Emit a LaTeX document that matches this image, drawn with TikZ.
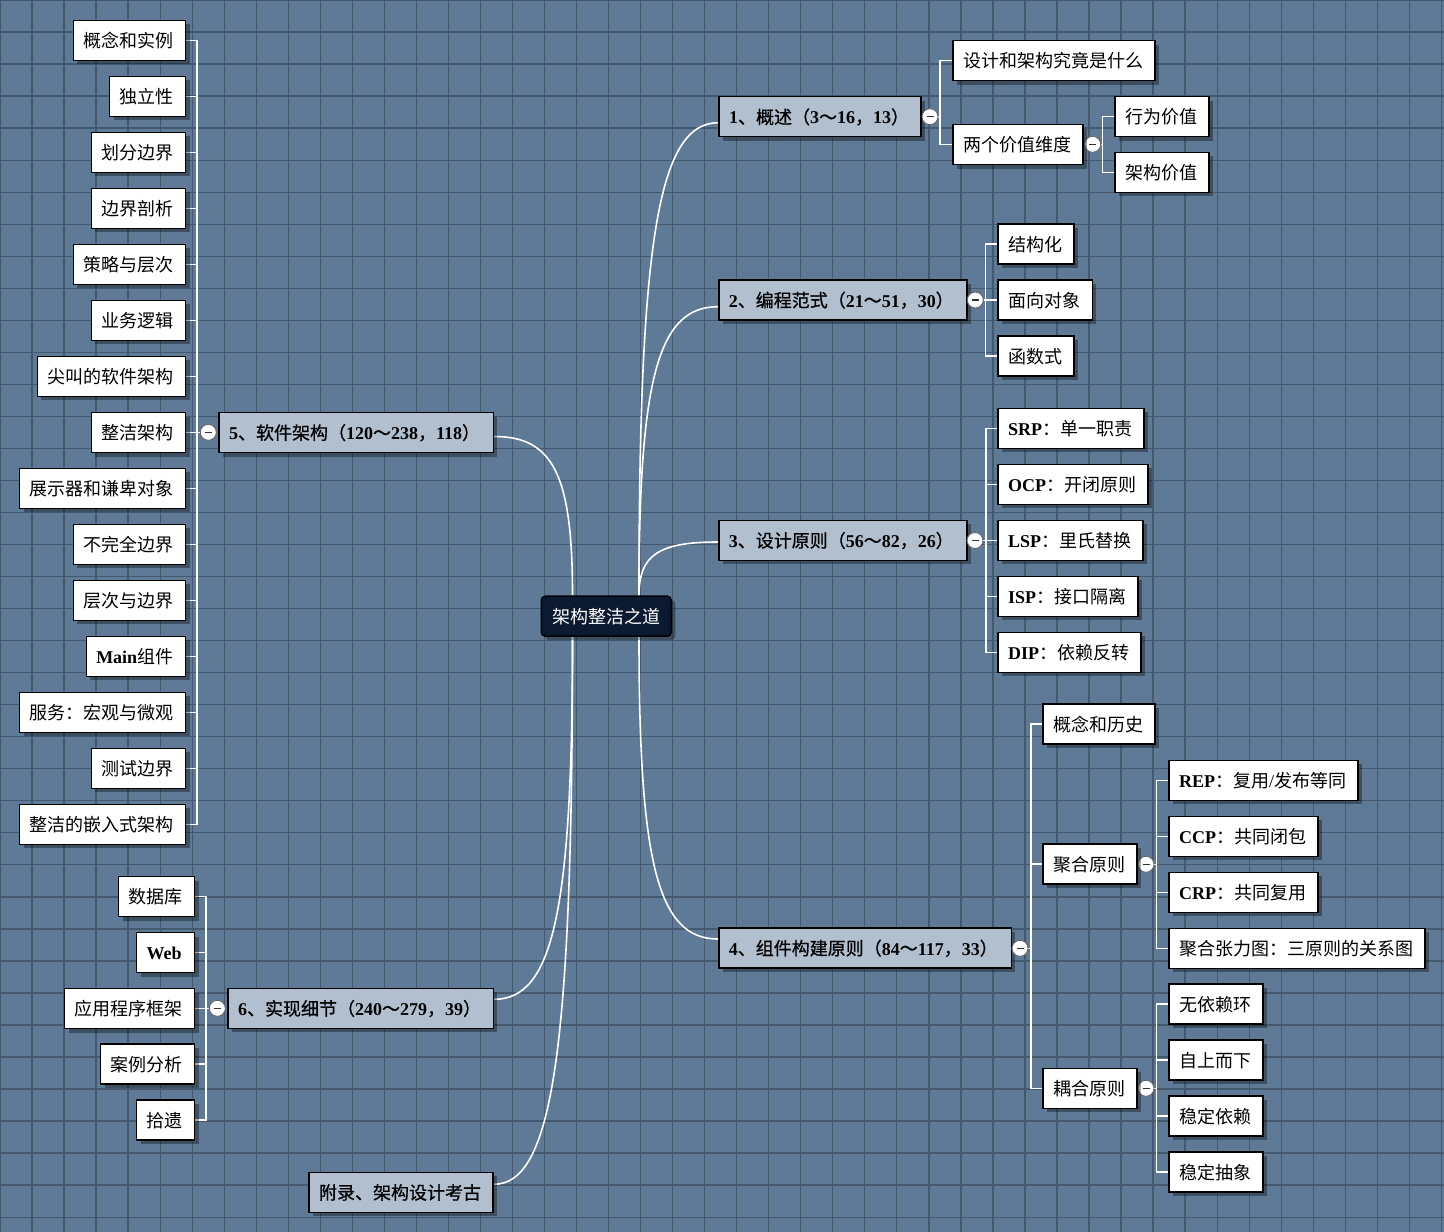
\documentclass[tikz,border=0pt]{standalone}
\usepackage{fontspec}
\setmainfont{Noto Sans CJK SC}
\newfontfamily\cjkmed[FakeBold=0.8]{Noto Sans CJK SC}
\newfontfamily\latf{Liberation Serif}
\usetikzlibrary{shadows}
\newcommand{\Lat}[1]{{\latf\bfseries #1}}
\newcommand{\T}[2]{\hbox to #1pt{#2\hss}}
\definecolor{bgc}{HTML}{5F7A96}
\definecolor{gridc}{HTML}{44586E}
\definecolor{lvone}{HTML}{B1BFCE}
\definecolor{rootc}{HTML}{0B1A30}
\pgfdeclarelayer{bg}
\pgfdeclarelayer{edges}
\pgfsetlayers{bg,edges,main}
\tikzset{
  base/.style={draw=black, line width=1.5pt, minimum height=40pt, inner xsep=10pt, inner ysep=0pt,
    text height=14pt, text depth=0pt, font=\fontsize{18}{20}\selectfont,
    drop shadow={shadow xshift=4pt, shadow yshift=-4pt, opacity=0.35, fill=black}},
  leaf/.style={base, fill=white},
  topic/.style={base, fill=lvone, font=\fontsize{18}{20}\selectfont\cjkmed},
  rootbox/.style={base, fill=rootc, text=white, rounded corners=4pt},
  tog/.style={circle, draw=black!60, fill=white, minimum size=16pt, inner sep=0pt, line width=0.9pt,
    path picture={\draw[line width=1.2pt, black!80] ([xshift=-3.5pt]path picture bounding box.center) -- ([xshift=3.5pt]path picture bounding box.center);}},
  conn/.style={draw=white, line width=1.6pt},
}
\begin{document}
\begin{tikzpicture}[x=1pt,y=-1pt]
\useasboundingbox (0,0) rectangle (1444,1232);
\begin{pgfonlayer}{bg}
\fill[bgc] (0,0) rectangle (1444,1232);
\foreach \i in {0,...,45} \draw[gridc, line width=1.3pt] (\i*32.03,0) -- (\i*32.03,1232);
\foreach \j in {0,...,38} \draw[gridc, line width=1.3pt] (0,\j*32.03) -- (1444,\j*32.03);
\end{pgfonlayer}

% root
\node[rootbox, anchor=west] (root) at (540.5,616.2) {\hbox to 110pt{\hss 架构整洁之道\hss}};

% level one
\node[topic, anchor=west] (n1) at (718.3,116.7) {\T{182}{\Lat{1}、概述（\Lat{3}～\Lat{16}，\Lat{13}）}};
\node[topic, anchor=west] (n2) at (718,300) {\T{228}{\Lat{2}、编程范式（\Lat{21}～\Lat{51}，\Lat{30}）}};
\node[topic, anchor=west] (n3) at (718,540.3) {\T{228}{\Lat{3}、设计原则（\Lat{56}～\Lat{82}，\Lat{26}）}};
\node[topic, anchor=west] (n4) at (718,948) {\T{272.5}{\Lat{4}、组件构建原则（\Lat{84}～\Lat{117}，\Lat{33}）}};
\node[topic, anchor=west] (n5) at (218.3,432.5) {\T{254.4}{\Lat{5}、软件架构（\Lat{120}～\Lat{238}，\Lat{118}）}};
\node[topic, anchor=west] (n6) at (227.3,1008.3) {\T{245.4}{\Lat{6}、实现细节（\Lat{240}～\Lat{279}，\Lat{39}）}};
\node[topic, anchor=west] (n7) at (308.3,1192.3) {\T{164}{附录、架构设计考古}};

% toggles
\node[tog] (c1) at (930,116.7) {};
\node[tog] (c2) at (975.3,300) {};
\node[tog] (c3) at (975,540.5) {};
\node[tog] (c4) at (1020,948.3) {};
\node[tog] (c5) at (208.3,432.3) {};
\node[tog] (c6) at (217.3,1008.3) {};
\node[tog] (ca2) at (1092.7,144.3) {};
\node[tog] (ce2) at (1146,864.3) {};
\node[tog] (ce3) at (1146,1088.3) {};

% children of 1
\node[leaf, anchor=west] (a1) at (952.3,60.5) {\T{182}{设计和架构究竟是什么}};
\node[leaf, anchor=west] (a2) at (952.3,144.5) {\T{110}{两个价值维度}};
\node[leaf, anchor=west] (a21) at (1114.3,116.5) {\T{74}{行为价值}};
\node[leaf, anchor=west] (a22) at (1114.3,172.3) {\T{74}{架构价值}};
% children of 2
\node[leaf, anchor=west] (b1) at (997.3,244.2) {\T{56}{结构化}};
\node[leaf, anchor=west] (b2) at (997.3,300.2) {\T{74.4}{面向对象}};
\node[leaf, anchor=west] (b3) at (997.3,356.2) {\T{56}{函数式}};
% children of 3
\node[leaf, anchor=west] (d1) at (997.3,428.3) {\T{126}{\Lat{SRP}：单一职责}};
\node[leaf, anchor=west] (d2) at (997.3,484.3) {\T{130}{\Lat{OCP}：开闭原则}};
\node[leaf, anchor=west] (d3) at (997.3,540.3) {\T{125}{\Lat{LSP}：里氏替换}};
\node[leaf, anchor=west] (d4) at (997.3,596.3) {\T{120}{\Lat{ISP}：接口隔离}};
\node[leaf, anchor=west] (d5) at (997.3,652.3) {\T{123}{\Lat{DIP}：依赖反转}};
% children of 4
\node[leaf, anchor=west] (e1) at (1042.3,724.2) {\T{92}{概念和历史}};
\node[leaf, anchor=west] (e2) at (1042.3,864.2) {\T{74}{聚合原则}};
\node[leaf, anchor=west] (e3) at (1042.3,1088.3) {\T{74}{耦合原则}};
\node[leaf, anchor=west] (f1) at (1168.3,780.3) {\T{169}{\Lat{REP}：复用{\latf /}发布等同}};
\node[leaf, anchor=west] (f2) at (1168.3,836.3) {\T{129}{\Lat{CCP}：共同闭包}};
\node[leaf, anchor=west] (f3) at (1168.3,892.3) {\T{129}{\Lat{CRP}：共同复用}};
\node[leaf, anchor=west] (f4) at (1168.3,948.3) {\T{236}{聚合张力图：三原则的关系图}};
\node[leaf, anchor=west] (g1) at (1168.3,1004.2) {\T{74}{无依赖环}};
\node[leaf, anchor=west] (g2) at (1168.3,1060.2) {\T{74}{自上而下}};
\node[leaf, anchor=west] (g3) at (1168.3,1116.2) {\T{74}{稳定依赖}};
\node[leaf, anchor=west] (g4) at (1168.3,1172.2) {\T{74}{稳定抽象}};
% children of 5
\node[leaf, anchor=east] (h1) at (186.3,40.3) {\T{92.3}{概念和实例}};
\node[leaf, anchor=east] (h2) at (186.3,96.3) {\T{56}{独立性}};
\node[leaf, anchor=east] (h3) at (186.3,152.3) {\T{74.3}{划分边界}};
\node[leaf, anchor=east] (h4) at (186.3,208.3) {\T{74.3}{边界剖析}};
\node[leaf, anchor=east] (h5) at (186.3,264.3) {\T{92.3}{策略与层次}};
\node[leaf, anchor=east] (h6) at (186.3,320.3) {\T{74.3}{业务逻辑}};
\node[leaf, anchor=east] (h7) at (186.3,376.3) {\T{128.3}{尖叫的软件架构}};
\node[leaf, anchor=east] (h8) at (186.3,432.5) {\T{74.3}{整洁架构}};
\node[leaf, anchor=east] (h9) at (186.3,488.3) {\T{146}{展示器和谦卑对象}};
\node[leaf, anchor=east] (h10) at (186.3,544.3) {\T{92.3}{不完全边界}};
\node[leaf, anchor=east] (h11) at (186.3,600.3) {\T{92.3}{层次与边界}};
\node[leaf, anchor=east] (h12) at (186.3,656.3) {\T{79.3}{\Lat{Main}组件}};
\node[leaf, anchor=east] (h13) at (186.3,712.3) {\T{146}{服务：宏观与微观}};
\node[leaf, anchor=east] (h14) at (186.3,768.3) {\T{74.3}{测试边界}};
\node[leaf, anchor=east] (h15) at (186.3,824.3) {\T{146}{整洁的嵌入式架构}};
% children of 6
\node[leaf, anchor=east] (i1) at (195.3,896.5) {\T{56}{数据库}};
\node[leaf, anchor=east] (i2) at (195.3,952.5) {\T{38}{\Lat{Web}}};
\node[leaf, anchor=east] (i3) at (195.3,1008.5) {\T{110}{应用程序框架}};
\node[leaf, anchor=east] (i4) at (195.3,1064.2) {\T{74}{案例分析}};
\node[leaf, anchor=east] (i5) at (195.3,1120.2) {\T{38}{拾遗}};

\begin{pgfonlayer}{edges}
% main curves
\draw[conn] ([xshift=-33pt]root.north east) .. controls +(0,-355) and +(-60,0) .. ([yshift=-6pt]n1.west);
\draw[conn] ([xshift=-33pt]root.north east) .. controls +(0,-217) and +(-60,0) .. ([yshift=-6.7pt]n2.west);
\draw[conn] ([xshift=-33pt]root.north east) .. controls +(0,-40) and +(-60,0) .. ([yshift=-1.7pt]n3.west);
\draw[conn] ([xshift=-33pt]root.south east) .. controls +(0,227) and +(-60,0) .. ([yshift=9pt]n4.west);
\draw[conn] ([xshift=32pt]root.north west) .. controls +(0,-119.5) and +(59.5,0) .. ([yshift=-4pt]n5.east);
\draw[conn] ([xshift=32pt]root.south west) .. controls +(0,272) and +(59.5,0) .. ([yshift=9pt]n6.east);
\draw[conn] ([xshift=32pt]root.south west) .. controls +(0,410) and +(59.5,0) .. ([yshift=8pt]n7.east);
% branches
\foreach \k in {a1,a2} \draw[conn] (c1.east) -| ([xshift=-12.3pt]\k.west) -- (\k.west);
\foreach \k in {a21,a22} \draw[conn] (ca2.east) -| ([xshift=-12pt]\k.west) -- (\k.west);
\foreach \k in {b1,b2,b3} \draw[conn] (c2.east) -| ([xshift=-12pt]\k.west) -- (\k.west);
\foreach \k in {d1,d2,d3,d4,d5} \draw[conn] (c3.east) -| ([xshift=-11.6pt]\k.west) -- (\k.west);
\foreach \k in {e1,e2,e3} \draw[conn] (c4.east) -| ([xshift=-11.6pt]\k.west) -- (\k.west);
\foreach \k in {f1,f2,f3,f4} \draw[conn] (ce2.east) -| ([xshift=-12pt]\k.west) -- (\k.west);
\foreach \k in {g1,g2,g3,g4} \draw[conn] (ce3.east) -| ([xshift=-12pt]\k.west) -- (\k.west);
\foreach \k in {h1,h2,h3,h4,h5,h6,h7,h8,h9,h10,h11,h12,h13,h14,h15} \draw[conn] (c5.west) -| ([xshift=10.4pt]\k.east) -- (\k.east);
\foreach \k in {i1,i2,i3,i4,i5} \draw[conn] (c6.west) -| ([xshift=10.7pt]\k.east) -- (\k.east);
\end{pgfonlayer}
\end{tikzpicture}
\end{document}
